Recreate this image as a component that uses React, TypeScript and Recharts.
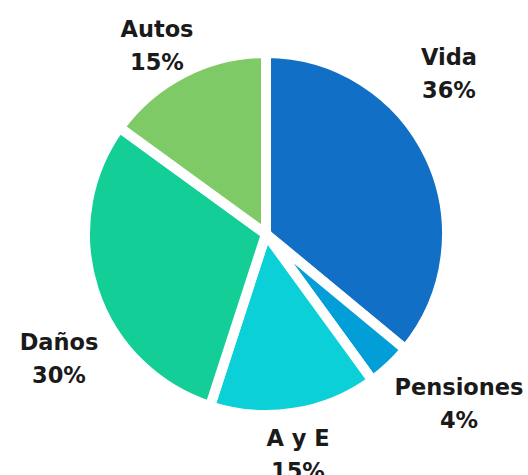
import { PieChart, Pie, Cell } from "recharts";

/* market share by line of business */
const NAMES = ["Vida", "Pensiones", "A y E", "Daños", "Autos"];
const SHARES = [36, 4, 15, 30, 15];

const COLORS = ["#116FC6", "#019ED8", "#0CD0D8", "#13CF97", "#7ECA66"];

// label anchor (first baseline) relative to the pie centre
const LABEL_OFFSETS: [number, number][] = [
  [183, -169],
  [193, 161],
  [32, 212],
  [-207, 116],
  [-109, -197],
];

const data = NAMES.map((name, i) => ({ name, value: SHARES[i] }));

function renderLabel(props: any) {
  const { cx, cy, index, name, value } = props;
  const [dx, dy] = LABEL_OFFSETS[index];
  const x = cx + dx;
  const y = cy + dy;
  return (
    <text
      x={x}
      y={y}
      textAnchor="middle"
      fill="#1a1a1a"
      fontFamily="DejaVu Sans"
      fontWeight={700}
      fontSize={22.5}
    >
      <tspan x={x} y={y}>
        {name}
      </tspan>
      <tspan x={x} y={y + 33}>
        {`${value}%`}
      </tspan>
    </text>
  );
}

export default function App() {
  return (
    <div style={{ position: "absolute", left: 0, top: 0, width: 528, height: 475, background: "#fff" }}>
      <PieChart width={528} height={475}>
        <Pie
          data={data}
          dataKey="value"
          nameKey="name"
          cx={261}
          cy={229}
          outerRadius={181}
          startAngle={90}
          endAngle={-270}
          stroke="#fff"
          strokeWidth={10}
          label={renderLabel}
          labelLine={false}
          isAnimationActive={false}
        >
          {data.map((_, i) => (
            <Cell key={i} fill={COLORS[i]} />
          ))}
        </Pie>
      </PieChart>
    </div>
  );
}
